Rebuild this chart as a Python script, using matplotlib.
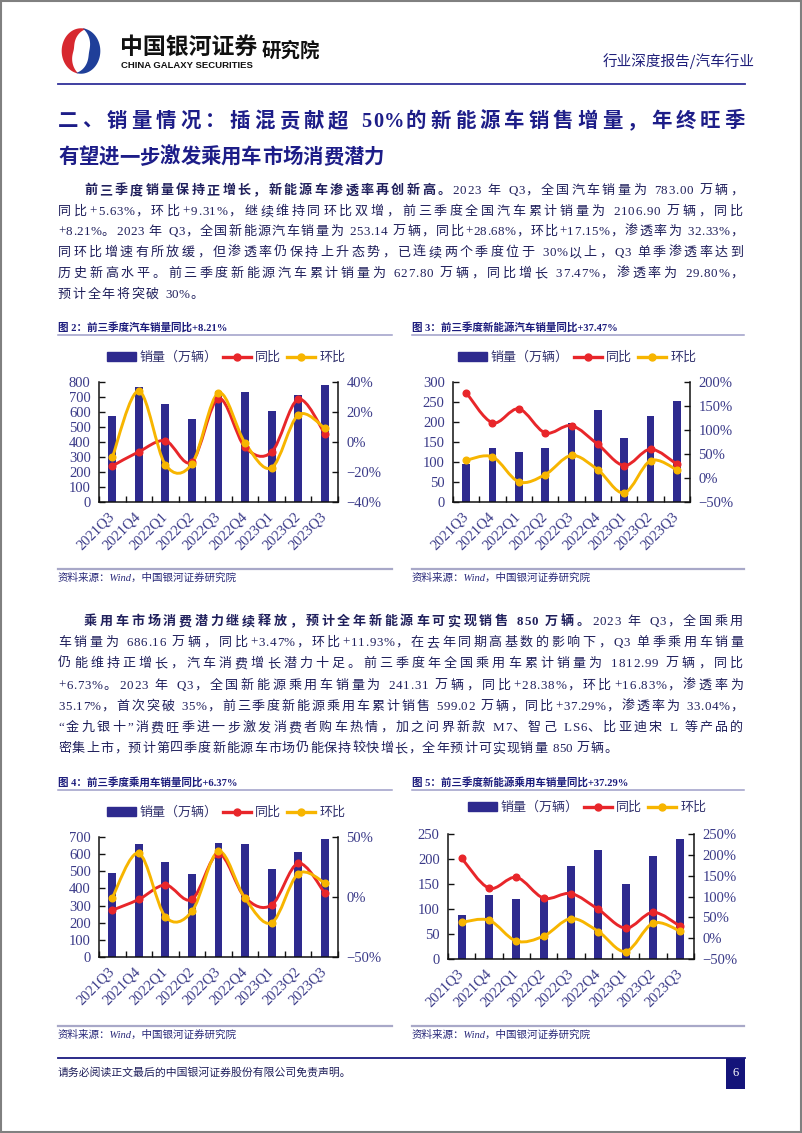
import matplotlib
matplotlib.use('Agg')
import matplotlib.pyplot as plt
import numpy as np
from matplotlib.path import Path
from matplotlib.patches import PathPatch, Rectangle, Polygon
from matplotlib.lines import Line2D

quarters = ['2021Q3', '2021Q4', '2022Q1', '2022Q2', '2022Q3',
            '2022Q4', '2023Q1', '2023Q2', '2023Q3']

car_sales = [573, 768, 651, 556, 737, 732, 607, 716, 783]
car_yoy = [-16.0, -6.5, 0.8, -13.3, 29.0, -3.5, -6.7, 28.4, 5.63]
car_qoq = [-10.3, 34.0, -15.1, -14.6, 32.7, -0.6, -17.2, 18.0, 9.31]

nev_sales = [94, 136, 126, 135, 198, 231, 159, 216, 253]
nev_yoy = [178, 115, 144, 94, 109, 70, 26, 60, 28.68]
nev_qoq = [37, 44, -8, 7, 47, 17, -31, 36, 17.15]

pv_sales = [488, 661, 554, 482, 667, 659, 516, 613, 686]
pv_yoy = [-11, -2, 10, -2, 36, -0.5, -6.7, 28, 3.47]
pv_qoq = [-0.5, 36.5, -16.4, -12, 38, -1.2, -21.5, 19.4, 11.93]

nevpv_sales = [89, 129, 120, 127, 187, 218, 151, 207, 241]
nevpv_yoy = [192, 120, 146, 96, 107, 69, 24, 62, 28.38]
nevpv_qoq = [38, 43, -7, 5, 47, 16, -32, 36, 16.83]

legend_labels = ['销量（万辆）', '同比', '环比']

title_lines = ['二、销量情况：插混贡献超 50%的新能源车销售增量，年终旺季',
               '有望进一步激发乘用车市场消费潜力']

para1 = [
    [('前三季度销量保持正增长，新能源车渗透率再创新高。', 'bold'),
     ('2023 年 Q3，全国汽车销量为 783.00 万辆，', 'normal')],
    [('同比+5.63%，环比+9.31%，继续维持同环比双增，前三季度全国汽车累计销量为 2106.90 万辆，同比', 'normal')],
    [('+8.21%。2023 年 Q3，全国新能源汽车销量为 253.14 万辆，同比+28.68%，环比+17.15%，渗透率为 32.33%，', 'normal')],
    [('同环比增速有所放缓，但渗透率仍保持上升态势，已连续两个季度位于 30%以上，Q3 单季渗透率达到', 'normal')],
    [('历史新高水平。前三季度新能源汽车累计销量为 627.80 万辆，同比增长 37.47%，渗透率为 29.80%，', 'normal')],
    [('预计全年将突破 30%。', 'normal')],
]
para2 = [
    [('乘用车市场消费潜力继续释放，预计全年新能源车可实现销售 850 万辆。', 'bold'),
     ('2023 年 Q3，全国乘用', 'normal')],
    [('车销量为 686.16 万辆，同比+3.47%，环比+11.93%，在去年同期高基数的影响下，Q3 单季乘用车销量', 'normal')],
    [('仍能维持正增长，汽车消费增长潜力十足。前三季度年全国乘用车累计销量为 1812.99 万辆，同比', 'normal')],
    [('+6.73%。2023 年 Q3，全国新能源乘用车销量为 241.31 万辆，同比+28.38%，环比+16.83%，渗透率为', 'normal')],
    [('35.17%，首次突破 35%，前三季度新能源乘用车累计销售 599.02 万辆，同比+37.29%，渗透率为 33.04%，', 'normal')],
    [('“金九银十”消费旺季进一步激发消费者购车热情，加之问界新款 M7、智己 LS6、比亚迪宋 L 等产品的', 'normal')],
    [('密集上市，预计第四季度新能源车市场仍能保持较快增长，全年预计可实现销量 850 万辆。', 'normal')],
]

captions = ['图 2：前三季度汽车销量同比+8.21%', '图 3：前三季度新能源汽车销量同比+37.47%',
            '图 4：前三季度乘用车销量同比+6.37%', '图 5：前三季度新能源乘用车销量同比+37.29%']
source_text = '资料来源：Wind，中国银河证券研究院'

# --- estilo ---
W, H = 802, 1133
FAM = ['Liberation Serif', 'Noto Sans CJK SC']
plt.rcParams['font.family'] = FAM
NAVY_TXT = '#20205c'
TITLE_C = '#1d1d88'
BAR_C = '#2e2a8e'
RED_C = '#e8262a'
YEL_C = '#f7b500'
TICK_C = '#3a3a88'


def fx(px):
    return px / W


def fy(py):
    return 1 - py / H


fig = plt.figure(figsize=(W / 100, H / 100), dpi=100)
renderer = fig.canvas.get_renderer()
_cache = {}


def char_w(ch, size, weight):
    key = (ch, size, weight)
    if key not in _cache:
        if ch == ' ':
            _cache[key] = size * 0.25 * 100 / 72
        else:
            t = fig.text(0, 0, ch, fontsize=size, fontweight=weight, family=FAM)
            _cache[key] = t.get_window_extent(renderer).width
            t.remove()
    return _cache[key]


def draw_line(segs, x0, x1, y, size, color, justify=True, gap=2.0):
    chars = [(c, w) for txt, w in segs for c in txt]
    widths = [char_w(c, size, w) for c, w in chars]
    # el espacio extra va sobre todo entre caracteres chinos
    wts = [1.0 if (ord(c) > 127 or c == ' ') else 0.3 for c, _ in chars[:-1]] + [0.0]
    if justify and len(chars) > 1:
        unit = (x1 - x0 - sum(widths)) / sum(wts)
    else:
        unit = gap
    x = x0
    for (c, w), cw, k in zip(chars, widths, wts):
        if c != ' ':
            fig.text(fx(x), fy(y), c, fontsize=size, fontweight=w, family=FAM,
                     color=color, ha='left', va='center')
        x += cw + unit * k


def hline(x0, x1, y, color, lw):
    fig.add_artist(Line2D([fx(x0), fx(x1)], [fy(y), fy(y)], color=color, lw=lw,
                          transform=fig.transFigure))


# borde de página
fig.add_artist(Rectangle((0.001, 0.001), 0.998, 0.998, transform=fig.transFigure,
                         fill=False, edgecolor='#808080', lw=1.5))

# --- cabecera ---
lax = fig.add_axes([fx(56), fy(76), 50 / W, 50 / H])
lax.set_xlim(-1.1, 1.1)
lax.set_ylim(-1.1, 1.1)
lax.set_aspect('equal')
lax.axis('off')


def crescent(a0, a1, thick, color):
    th = np.radians(np.linspace(a0, a1, 80))
    t = np.sin(np.linspace(0, np.pi, 80)) * thick
    outer = np.column_stack([0.85 * np.cos(th), np.sin(th)])
    inner = np.column_stack([0.85 * (1 - t) * np.cos(th), (1 - t) * np.sin(th)])[::-1]
    lax.add_patch(Polygon(np.vstack([outer, inner]), closed=True, color=color, lw=0))


crescent(75, 262, 0.62, '#d7282f')
crescent(255, 445, 0.58, '#1f3f99')

fig.text(fx(120), fy(47), '中国银河证券', fontsize=16.5, fontweight='heavy',
         family=['Noto Sans CJK SC'], color='#111111', ha='left', va='center')
fig.text(fx(121), fy(66), 'CHINA GALAXY SECURITIES', fontsize=6.8, fontweight='bold',
         family=['Liberation Sans'], color='#111111', ha='left', va='center')
fig.text(fx(262), fy(51), '研究院', fontsize=14, fontweight='bold',
         family=['Noto Sans CJK SC'], color='#111111', ha='left', va='center')
fig.text(fx(755), fy(61), '行业深度报告/汽车行业', fontsize=10.5,
         family=['Noto Sans CJK SC'], color='#1f1f7a', ha='right', va='center')
hline(58, 745, 84, '#30309a', 1.3)

# --- título ---
draw_line([(title_lines[0], 'bold')], 58, 745, 122, 14.7, TITLE_C, justify=True)
draw_line([(title_lines[1], 'bold')], 58, 745, 158, 14.7, TITLE_C, justify=False, gap=0.0)

# --- párrafos ---
PSIZE = 9.4
p1_y = [191, 212, 232, 253, 274, 295]
for i, (segs, y) in enumerate(zip(para1, p1_y)):
    x0 = 84 if i == 0 else 58
    draw_line(segs, x0, 743, y, PSIZE, NAVY_TXT, justify=(i < len(para1) - 1), gap=1.6)

p2_y = [622, 643, 664, 686, 707, 728, 749]
for i, (segs, y) in enumerate(zip(para2, p2_y)):
    x0 = 84 if i == 0 else 58
    draw_line(segs, x0, 743, y, PSIZE, NAVY_TXT, justify=(i < len(para2) - 1), gap=1.0)


# --- gráficos ---
def smooth_path(xs, ys):
    pts = np.column_stack([xs, ys]).astype(float)
    n = len(pts)
    verts = [pts[0]]
    codes = [Path.MOVETO]
    for i in range(n - 1):
        p0 = pts[i - 1] if i > 0 else pts[i]
        p1 = pts[i]
        p2 = pts[i + 1]
        p3 = pts[i + 2] if i + 2 < n else pts[i + 1]
        verts += [p1 + (p2 - p0) / 6, p2 - (p3 - p1) / 6, p2]
        codes += [Path.CURVE4] * 3
    return Path(verts, codes)


def pct(v):
    s = f'{abs(v):.0f}%'
    return ('\u2212' + s) if v < 0 else s


def draw_chart(box, sales, yoy, qoq, lticks, rticks, leg_xy):
    l, r, t, b = box
    ax = fig.add_axes([fx(l), fy(b), (r - l) / W, (b - t) / H])
    x = np.arange(len(quarters))
    ax.bar(x, sales, width=0.3, color=BAR_C, zorder=2)
    ax.set_xlim(-0.5, len(quarters) - 0.5)
    ax.set_ylim(lticks[0], lticks[-1])
    ax.set_yticks(lticks)
    ax.set_xticks(x)
    ax.set_xticklabels(quarters, rotation=45, ha='right', va='center',
                       rotation_mode='anchor')
    ax.set_xticks(np.arange(-0.5, len(quarters), 1), minor=True)
    ax.tick_params(axis='x', which='major', length=0, pad=9, labelsize=10.5,
                   labelcolor=TICK_C)
    ax.tick_params(axis='x', which='minor', direction='in', length=4, width=1, color='#111')
    ax.tick_params(axis='y', direction='in', length=4, width=1, pad=6, labelsize=10.5,
                   labelcolor=TICK_C, color='#111')
    ax.spines['top'].set_visible(False)
    ax.spines['right'].set_visible(False)
    for s in ('left', 'bottom'):
        ax.spines[s].set_color('#111')
        ax.spines[s].set_linewidth(1.1)

    ax2 = ax.twinx()
    for vals, col in ((yoy, RED_C), (qoq, YEL_C)):
        ax2.add_patch(PathPatch(smooth_path(x, vals), fill=False, edgecolor=col,
                                lw=2.1, capstyle='round', joinstyle='round', zorder=3))
        ax2.plot(x, vals, linestyle='none', marker='o', markersize=4.8, color=col, zorder=4)
    ax2.set_ylim(rticks[0], rticks[-1])
    ax2.set_yticks(rticks)
    ax2.set_yticklabels([pct(v) for v in rticks])
    ax2.tick_params(axis='y', direction='in', length=4, width=1, pad=6, labelsize=10.5,
                    labelcolor=TICK_C, color='#111')
    ax2.spines['top'].set_visible(False)
    ax2.spines['left'].set_visible(False)
    ax2.spines['bottom'].set_visible(False)
    ax2.spines['right'].set_color('#111')
    ax2.spines['right'].set_linewidth(1.1)

    handles = [Rectangle((0, 0), 1, 1, color=BAR_C),
               Line2D([], [], color=RED_C, lw=2.4, marker='o', markersize=5),
               Line2D([], [], color=YEL_C, lw=2.4, marker='o', markersize=5)]
    leg = ax2.legend(handles, legend_labels, loc='center',
                     bbox_to_anchor=(fx(leg_xy[0]), fy(leg_xy[1])),
                     bbox_transform=fig.transFigure, ncol=3, frameon=False,
                     prop={'family': FAM, 'size': 9.4}, handlelength=2.2,
                     handletextpad=0.3, columnspacing=0.4, borderpad=0)
    for txt in leg.get_texts():
        txt.set_color('#33336e')


draw_chart((99, 338, 382, 502), car_sales, car_yoy, car_qoq,
           list(range(0, 801, 100)), [-40, -20, 0, 20, 40], (226, 358))
draw_chart((453, 690, 382, 502), nev_sales, nev_yoy, nev_qoq,
           list(range(0, 301, 50)), [-50, 0, 50, 100, 150, 200], (577, 358))
draw_chart((99, 338, 837, 957), pv_sales, pv_yoy, pv_qoq,
           list(range(0, 701, 100)), [-50, 0, 50], (226, 813))
draw_chart((448, 694, 834, 959), nevpv_sales, nevpv_yoy, nevpv_qoq,
           list(range(0, 251, 50)), [-50, 0, 50, 100, 150, 200, 250], (587, 808))

# títulos de figura y fuentes
CAP_C = '#1c1c7c'
for cap, (x0, x1, y) in zip(captions, [(58, 392, 327), (412, 744, 327),
                                        (58, 392, 782), (412, 744, 782)]):
    fig.text(fx(x0), fy(y), cap, fontsize=7.6, fontweight='bold', color=CAP_C,
             ha='left', va='center')
    hline(x0, x1, y + 8, '#9e9ec8', 1.1)

for x0, x1, y in [(58, 392, 569), (412, 744, 569), (58, 392, 1026), (412, 744, 1026)]:
    hline(x0, x1, y, '#a8a8c8', 1.6)
    fig.text(fx(x0), fy(y + 9), source_text, fontsize=7.6, style='italic',
             color='#2a2a7a', ha='left', va='center')

# pie de página
hline(58, 745, 1058, '#1a1a80', 1.3)
fig.text(fx(58), fy(1072), '请务必阅读正文最后的中国银河证券股份有限公司免责声明。',
         fontsize=7.8, color='#1e1e5a', ha='left', va='center')
fig.add_artist(Rectangle((fx(726), fy(1089)), 19 / W, 31 / H, transform=fig.transFigure,
                         facecolor='#14147a', edgecolor='none'))
fig.text(fx(735.5), fy(1073), '6', fontsize=9, color='white', ha='center', va='center')

fig.savefig('out.png', dpi=100)
